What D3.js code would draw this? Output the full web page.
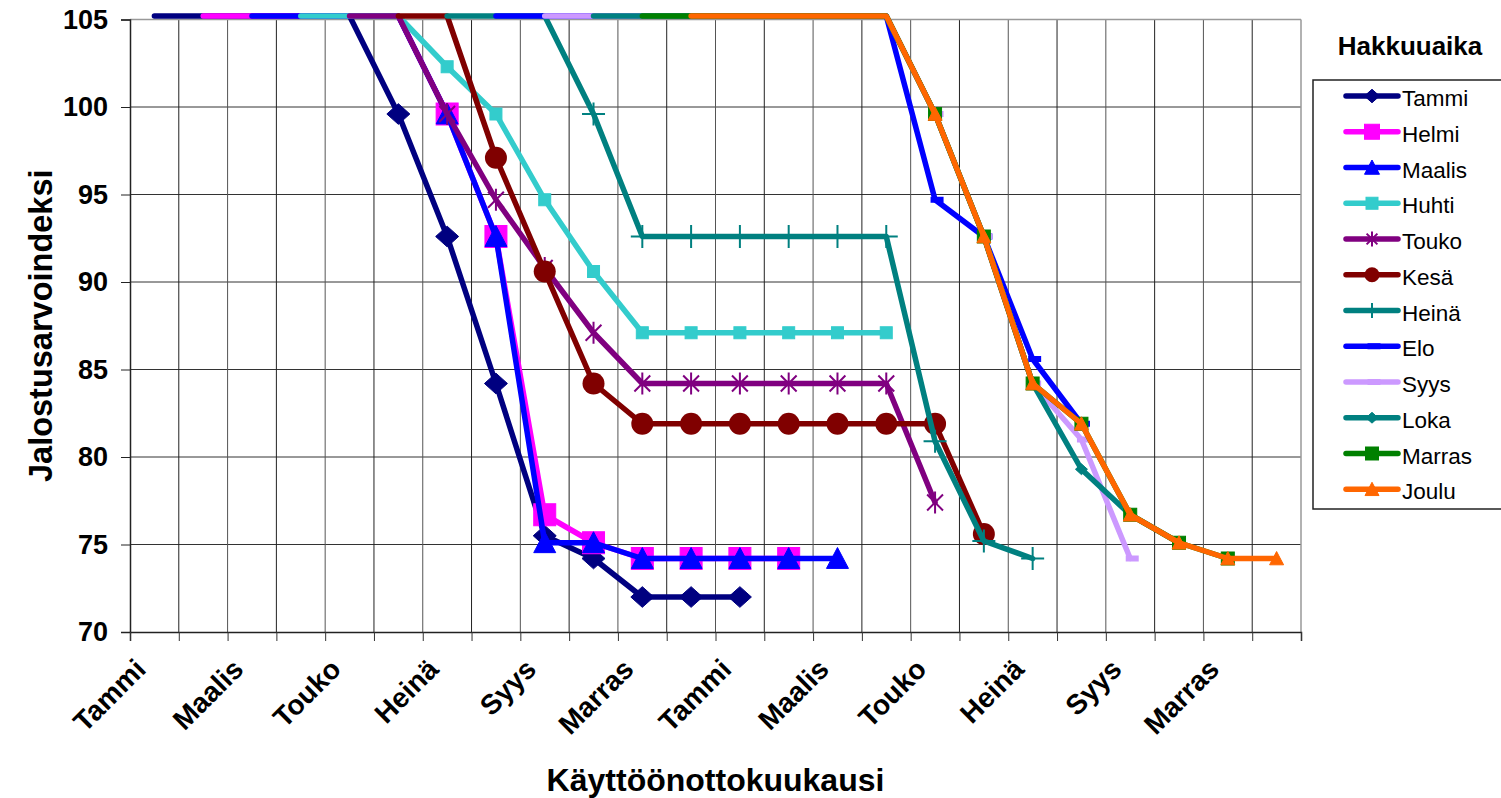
<!DOCTYPE html>
<html><head><meta charset="utf-8">
<script src="https://cdn.jsdelivr.net/npm/d3@7"></script>
<style>
body{margin:0;background:#fff;}
svg{display:block;}
text{font-family:"Liberation Sans",Arial,Helvetica,sans-serif;fill:#000;}
</style>
</head><body>
<svg id="chart" width="1501" height="798"></svg>
<script>
const N = null;
// ---- data ----
const categories = ["Tammi","Helmi","Maalis","Huhti","Touko","Kesä","Heinä","Elo","Syys","Loka","Marras","Joulu",
                    "Tammi","Helmi","Maalis","Huhti","Touko","Kesä","Heinä","Elo","Syys","Loka","Marras","Joulu"];
const labelledCategories = [0,2,4,6,8,10,12,14,16,18,20,22];
const yTicks = [70,75,80,85,90,95,100,105];
const seriesNames = ["Tammi","Helmi","Maalis","Huhti","Touko","Kesä","Heinä","Elo","Syys","Loka","Marras","Joulu"];

const tammi  = [105,105,105,105,105,99.6,92.6,84.2,75.5,74.2,72.0,72.0,72.0,N,N,N,N,N,N,N,N,N,N,N];
const helmi  = [N,105,105,105,105,105,99.6,92.6,76.7,75.1,74.2,74.2,74.2,74.2,N,N,N,N,N,N,N,N,N,N];
const maalis = [N,N,105,105,105,105,99.6,92.6,75.1,75.1,74.2,74.2,74.2,74.2,74.2,N,N,N,N,N,N,N,N,N];
const huhti  = [N,N,N,105,105,105,102.3,99.6,94.7,90.6,87.1,87.1,87.1,87.1,87.1,87.1,N,N,N,N,N,N,N,N];
const touko  = [N,N,N,N,105,105,99.6,94.7,90.8,87.1,84.2,84.2,84.2,84.2,84.2,84.2,77.4,N,N,N,N,N,N,N];
const kesa   = [N,N,N,N,N,105,105,97.1,90.6,84.2,81.9,81.9,81.9,81.9,81.9,81.9,81.9,75.6,N,N,N,N,N,N];
const heina  = [N,N,N,N,N,N,105,105,105,99.6,92.6,92.6,92.6,92.6,92.6,92.6,80.9,75.2,74.2,N,N,N,N,N];
const elo    = [N,N,N,N,N,N,N,105,105,105,105,105,105,105,105,105,94.7,92.6,85.6,81.9,N,N,N,N];
const syys   = [N,N,N,N,N,N,N,N,105,105,105,105,105,105,105,105,99.6,92.6,84.2,81.0,74.2,N,N,N];
const loka   = [N,N,N,N,N,N,N,N,N,105,105,105,105,105,105,105,99.6,92.6,84.2,79.3,76.7,75.1,N,N];
const marras = [N,N,N,N,N,N,N,N,N,N,105,105,105,105,105,105,99.6,92.6,84.2,81.9,76.7,75.1,74.2,N];
const joulu  = [N,N,N,N,N,N,N,N,N,N,N,105,105,105,105,105,99.6,92.6,84.2,81.9,76.7,75.1,74.2,74.2];

const seriesValues = [tammi,helmi,maalis,huhti,touko,kesa,heina,elo,syys,loka,marras,joulu];

// ---- style ----
const styles = [
  {color:"#000080", marker:"diamond",  size:23},
  {color:"#FF00FF", marker:"square",   size:22},
  {color:"#0000FF", marker:"triangle", size:22},
  {color:"#33CCCC", marker:"square",   size:12},
  {color:"#800080", marker:"asterisk", size:22},
  {color:"#800000", marker:"circle",   size:22},
  {color:"#008080", marker:"plus",     size:23},
  {color:"#0000FF", marker:"dash",     size:13},
  {color:"#CC99FF", marker:"dash",     size:13},
  {color:"#008080", marker:"diamond",  size:12},
  {color:"#008000", marker:"square",   size:13},
  {color:"#FF6600", marker:"triangle", size:14}
];

const plot = {left:130, right:1301, top:19.5, bottom:632};
const yMin = 70, yMax = 105;

const svg = d3.select("#chart");
const x = d3.scaleBand().domain(d3.range(categories.length)).range([plot.left, plot.right]).padding(0);
const xb = d3.scaleLinear().domain([0, categories.length]).range([plot.left, plot.right]);
const xc = i => x(i) + x.bandwidth()/2;
const y = d3.scaleLinear().domain([yMin, yMax]).range([plot.bottom, plot.top]);
// values at the axis maximum are drawn just outside the top edge, like the source
const yPos = v => v >= yMax ? y(yMax) - 3.5 : y(v);

// gridlines
const grid = svg.append("g");
grid.selectAll("line.h").data(yTicks.filter(t => t > yMin && t < yMax)).join("line")
  .attr("x1", plot.left).attr("x2", plot.right)
  .attr("y1", d => y(d)).attr("y2", d => y(d))
  .attr("stroke", "#333").attr("stroke-width", 1);
grid.selectAll("line.v").data(d3.range(1, categories.length)).join("line")
  .attr("x1", d => xb(d)).attr("x2", d => xb(d))
  .attr("y1", plot.top).attr("y2", plot.bottom)
  .attr("stroke", d => d % 2 ? "#222" : "#555").attr("stroke-width", 1);
grid.append("line").attr("x1", plot.left).attr("x2", plot.right).attr("y1", plot.top).attr("y2", plot.top)
  .attr("stroke", "#999").attr("stroke-width", 1.5);
grid.append("line").attr("x1", plot.right).attr("x2", plot.right).attr("y1", plot.top).attr("y2", plot.bottom)
  .attr("stroke", "#999").attr("stroke-width", 1.5);

// axes
const yAxis = d3.axisLeft(y).tickValues(yTicks).tickSize(9).tickPadding(13).tickFormat(d3.format("d"));
const yg = svg.append("g").attr("transform", `translate(${plot.left},0)`).call(yAxis);
yg.select(".domain").attr("stroke", "#222").attr("stroke-width", 1.5);
yg.selectAll(".tick line").attr("stroke", "#222").attr("stroke-width", 1);
yg.selectAll(".tick text").attr("font-size", 27).attr("font-weight", "bold")
  .attr("font-family", '"Liberation Sans",Arial,sans-serif').attr("fill", "#000");

const xAxis = d3.axisBottom(xb).tickValues(d3.range(0, categories.length + 1)).tickSize(9).tickFormat("");
const xg = svg.append("g").attr("transform", `translate(0,${plot.bottom})`).call(xAxis);
xg.select(".domain").attr("stroke", "#222").attr("stroke-width", 1.5);
xg.selectAll(".tick line").attr("stroke", "#333").attr("stroke-width", 1);

svg.append("g").selectAll("text").data(labelledCategories).join("text")
  .attr("transform", d => `translate(${xc(d) - 7},${plot.bottom + 39}) rotate(-45)`)
  .attr("text-anchor", "end")
  .attr("font-size", 28).attr("font-weight", "bold")
  .text(d => categories[d]);

// axis titles
svg.append("text").attr("transform", `translate(52,${(plot.top + plot.bottom)/2}) rotate(-90)`)
  .attr("text-anchor", "middle").attr("font-size", 32.5).attr("font-weight", "bold")
  .text("Jalostusarvoindeksi");
svg.append("text").attr("x", (plot.left + plot.right)/2).attr("y", 791)
  .attr("text-anchor", "middle").attr("font-size", 32).attr("font-weight", "bold")
  .text("Käyttöönottokuukausi");

// marker drawing
function drawMarker(g, type, s, color) {
  const h = s/2;
  if (type === "diamond") {
    g.append("path").attr("d", `M0,${-h*0.9}L${h},0L0,${h*0.9}L${-h},0Z`).attr("fill", color).attr("stroke", color).attr("stroke-width", 1);
  } else if (type === "square") {
    g.append("rect").attr("x", -h).attr("y", -h).attr("width", s).attr("height", s).attr("fill", color).attr("stroke", color).attr("stroke-width", 1);
  } else if (type === "triangle") {
    g.append("path").attr("d", `M0,${-h}L${h},${h*0.9}L${-h},${h*0.9}Z`).attr("fill", color).attr("stroke", color).attr("stroke-width", 1);
  } else if (type === "circle") {
    g.append("circle").attr("r", h).attr("fill", color);
  } else if (type === "asterisk") {
    const d = h*0.72;
    g.append("path").attr("d", `M0,${-h}V${h}M${-d},${-d}L${d},${d}M${-d},${d}L${d},${-d}`)
      .attr("stroke", color).attr("stroke-width", 2).attr("fill", "none");
  } else if (type === "plus") {
    g.append("path").attr("d", `M0,${-h}V${h}M${-h},0H${h}`)
      .attr("stroke", color).attr("stroke-width", 2).attr("fill", "none");
  } else if (type === "dash") {
    g.append("rect").attr("x", -h + 2).attr("y", -3).attr("width", s).attr("height", 6).attr("fill", color);
  }
}

// series
const line = d3.line().defined(d => d != null).x((d, i) => xc(i)).y(d => yPos(d));
const sg = svg.append("g");
seriesValues.forEach((vals, k) => {
  const st = styles[k];
  const g = sg.append("g");
  g.append("path").attr("d", line(vals)).attr("fill", "none")
    .attr("stroke", st.color).attr("stroke-width", 5.5)
    .attr("stroke-linejoin", "round").attr("stroke-linecap", "round");
  vals.forEach((v, i) => {
    if (v == null || v >= yMax) return;
    const mg = g.append("g").attr("transform", `translate(${xc(i)},${y(v)})`);
    drawMarker(mg, st.marker, st.size, st.color);
  });
});

// legend
const lg = svg.append("g");
lg.append("text").attr("x", 1410).attr("y", 55).attr("text-anchor", "middle")
  .attr("font-size", 26).attr("font-weight", "bold").text("Hakkuuaika");
lg.append("rect").attr("x", 1313).attr("y", 80).attr("width", 200).attr("height", 429)
  .attr("fill", "#fff").attr("stroke", "#222").attr("stroke-width", 1.5);
seriesNames.forEach((name, k) => {
  const st = styles[k];
  const ry = 96 + k * 35.75;
  const row = lg.append("g").attr("transform", `translate(0,${ry})`);
  row.append("line").attr("x1", 1346).attr("x2", 1398).attr("y1", 0).attr("y2", 0)
    .attr("stroke", st.color).attr("stroke-width", 5.5).attr("stroke-linecap", "round");
  const mg = row.append("g").attr("transform", "translate(1372,0)");
  drawMarker(mg, st.marker, Math.min(st.size, 15), st.color);
  row.append("text").attr("x", 1402).attr("y", 10).attr("font-size", 22.5).text(name);
});
</script>
</body></html>
